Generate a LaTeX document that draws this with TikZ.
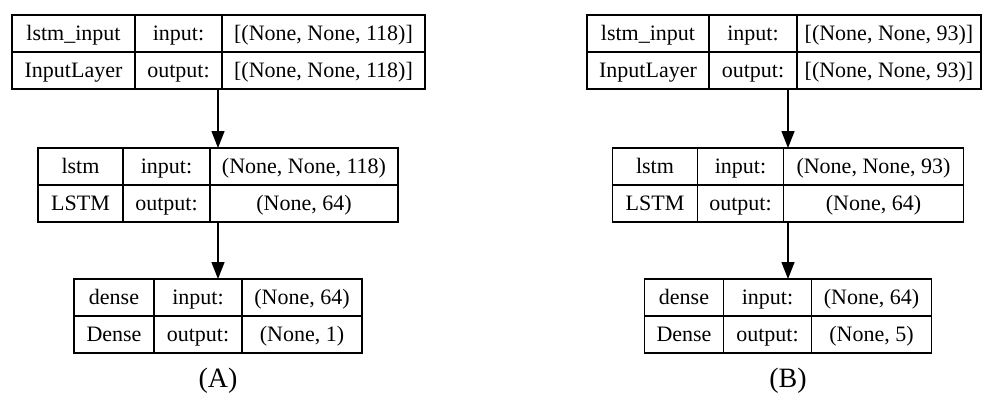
\documentclass[tikz,border=0pt]{standalone}
\usepackage{fontspec}
\setmainfont{Liberation Serif}
\usetikzlibrary{arrows.meta,fit}

\tikzset{
  cell/.style={draw, line width=1.3pt, minimum height=37pt, inner sep=0pt,
               outer sep=0pt, anchor=north west, text height=18pt, text depth=4pt,
               font=\fontsize{22}{24}\selectfont},
  layerbox/.style={inner sep=0pt, outer sep=0pt},
  flow/.style={line width=1.4pt, -{Triangle[width=13pt,length=17pt]}},
  caption/.style={font=\fontsize{28}{32}\selectfont}
}

% one row of a layer table: name, x, y, three column widths, three texts
\newcommand\layerrow[9]{%
  \node[cell, minimum width=#4pt] (#1-1) at (#2,#3) {#7};
  \node[cell, minimum width=#5pt] (#1-2) at (#1-1.north east) {#8};
  \node[cell, minimum width=#6pt] (#1-3) at (#1-2.north east) {#9};
}

\begin{document}
\begin{tikzpicture}[x=1pt, y=-1pt]
  \useasboundingbox (0,0) rectangle (982,394);

  % model (A)
  \layerrow{A1a}{12}{15}{123}{87}{203}{lstm\_input}{input:}{[(None, None, 118)]}
  \layerrow{A1b}{12}{52}{123}{87}{203}{InputLayer}{output:}{[(None, None, 118)]}
  \node[layerbox, fit=(A1a-1)(A1b-3)] (A1) {};

  \layerrow{A2a}{38}{148}{85}{87}{188}{lstm}{input:}{(None, None, 118)}
  \layerrow{A2b}{38}{185}{85}{87}{188}{LSTM}{output:}{(None, 64)}
  \node[layerbox, fit=(A2a-1)(A2b-3)] (A2) {};

  \layerrow{A3a}{74}{279}{80}{88}{120}{dense}{input:}{(None, 64)}
  \layerrow{A3b}{74}{316}{80}{88}{120}{Dense}{output:}{(None, 1)}
  \node[layerbox, fit=(A3a-1)(A3b-3)] (A3) {};

  \draw[flow] (A2.north |- A1.south) -- (A2.north);
  \draw[flow] (A3.north |- A2.south) -- (A3.north);
  \node[caption] (capA) at (218,381) {(A)};

  % model (B)
  \layerrow{B1a}{587}{15}{122}{88}{184}{lstm\_input}{input:}{[(None, None, 93)]}
  \layerrow{B1b}{587}{52}{122}{88}{184}{InputLayer}{output:}{[(None, None, 93)]}
  \node[layerbox, fit=(B1a-1)(B1b-3)] (B1) {};

  \layerrow{B2a}{612.5}{148}{85}{86}{180}{lstm}{input:}{(None, None, 93)}
  \layerrow{B2b}{612.5}{185}{85}{86}{180}{LSTM}{output:}{(None, 64)}
  \node[layerbox, fit=(B2a-1)(B2b-3)] (B2) {};

  \layerrow{B3a}{644.5}{279}{79}{88}{120}{dense}{input:}{(None, 64)}
  \layerrow{B3b}{644.5}{316}{79}{88}{120}{Dense}{output:}{(None, 5)}
  \node[layerbox, fit=(B3a-1)(B3b-3)] (B3) {};

  \draw[flow] (B2.north |- B1.south) -- (B2.north);
  \draw[flow] (B3.north |- B2.south) -- (B3.north);
  \node[caption] (capB) at (788,381) {(B)};
\end{tikzpicture}
\end{document}
